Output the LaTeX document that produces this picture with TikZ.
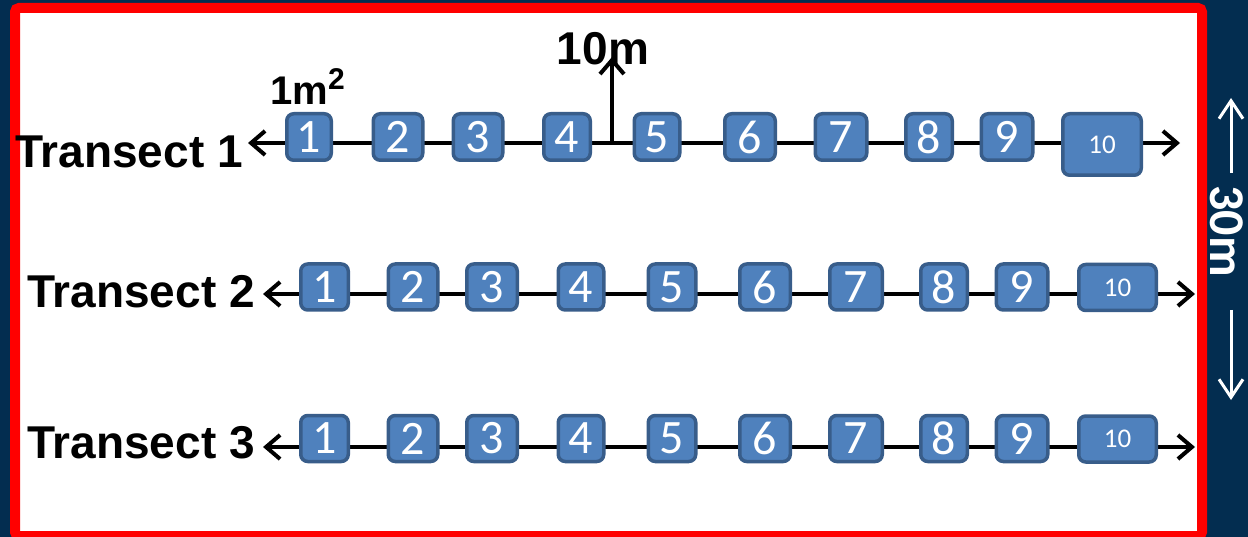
\documentclass[tikz,border=0pt]{standalone}
\usepackage{fontspec}
\newfontfamily\lsans{Liberation Sans}
\newfontfamily\calib{Carlito}
\usetikzlibrary{arrows.meta}
\definecolor{navy}{RGB}{3,45,80}
\definecolor{boxfill}{HTML}{4F81BD}
\definecolor{boxline}{HTML}{385D8A}
\definecolor{redframe}{RGB}{255,0,0}
\begin{document}
\begin{tikzpicture}[x=1pt,y=-1pt,
  quad/.style={draw=boxline, fill=boxfill, line width=3.5pt, rounded corners=7pt,
    inner sep=0pt, text=white, font=\calib\fontsize{48}{48}\selectfont},
  quadten/.style={quad, font=\calib\fontsize{27}{27}\selectfont},
  barb/.tip={Straight Barb[length=14pt,width=24pt]},
  tline/.style={line width=4pt, black, {barb}-{barb}},
  upline/.style={line width=4pt, black, -{barb}},
  wline/.style={line width=3pt, white, -{Straight Barb[length=18pt,width=24pt]}},
  lab/.style={font=\lsans\bfseries\fontsize{46}{50}\selectfont, inner sep=0pt, text=black}
]
\useasboundingbox (0,0) rectangle (1248,537);
\fill[navy] (0,0) rectangle (1248,537);
\draw[redframe, line width=10pt, fill=white, rounded corners=4pt] (15,8) rectangle (1202,536);

% labels
\node[lab, anchor=base east] (lab1) at (243,168) {Transect 1};
\node[lab, anchor=base east] (lab2) at (255,308) {Transect 2};
\node[lab, anchor=base east] (lab3) at (255,458) {Transect 3};
\node[lab, anchor=base] (ten) at (603,65) {10m};
\node[lab, anchor=base west, font=\lsans\bfseries\fontsize{40}{44}\selectfont] (sq) at (270,105)
  {1m\raisebox{15pt}{\fontsize{30}{32}\selectfont 2}};

% transect lines
\coordinate (aL) at (248,143); \coordinate (aR) at (1180,143);
\coordinate (bL) at (263,294); \coordinate (bR) at (1195,294);
\coordinate (cL) at (263,447); \coordinate (cR) at (1195,447);
\draw[tline] (aL) -- (aR);
\draw[tline] (bL) -- (bR);
\draw[tline] (cL) -- (cR);

% vertical 10m arrow
\coordinate (vb) at (612,143); \coordinate (vt) at (612,57);
\draw[upline] (vb) -- (vt);

% boxes transect 1
\foreach \i/\x/\w in {1/309/48,2/398/53,3/478/53,4/567/50,5/657/49,6/750/54,7/841/55,8/929/50,9/1007/55}
  \node[quad, minimum width={\w-3.5}, minimum height=46.5] (ta\i) at (\x,137) {\i};
\node[quadten, minimum width=78.5, minimum height=61.5] (ta10) at (1102,144.5) {10};

% boxes transect 2
\foreach \i/\x/\w in {1/324.5/51,2/413/53,3/492/54,4/581/49,5/672/51,6/765/54,7/856/56,8/944/50,9/1022/55}
  \node[quad, minimum width={\w-3.5}, minimum height=46] (tb\i) at (\x,287) {\i};
\node[quadten, minimum width=77.5, minimum height=46] (tb10) at (1117.5,287.5) {10};

% boxes transect 3
\foreach \i/\x/\w in {1/324.5/51,2/413/53,3/492/54,4/581/49,5/672/51,6/765/54,7/856/56,8/944/50,9/1022/55}
  \node[quad, minimum width={\w-3.5}, minimum height=46] (tc\i) at (\x,438.5) {\i};
\node[quadten, minimum width=77.5, minimum height=46] (tc10) at (1117.5,439) {10};

% 30m strip
\node[rotate=-90, anchor=base, inner sep=0pt, text=white,
  font=\calib\bfseries\fontsize{50}{50}\selectfont] (thirty) at (1210,231) {30m};
\coordinate (u0) at (1231,173); \coordinate (u1) at (1231,98);
\coordinate (d0) at (1231,310); \coordinate (d1) at (1231,400);
\draw[wline] (u0) -- (u1);
\draw[wline] (d0) -- (d1);
\end{tikzpicture}
\end{document}
